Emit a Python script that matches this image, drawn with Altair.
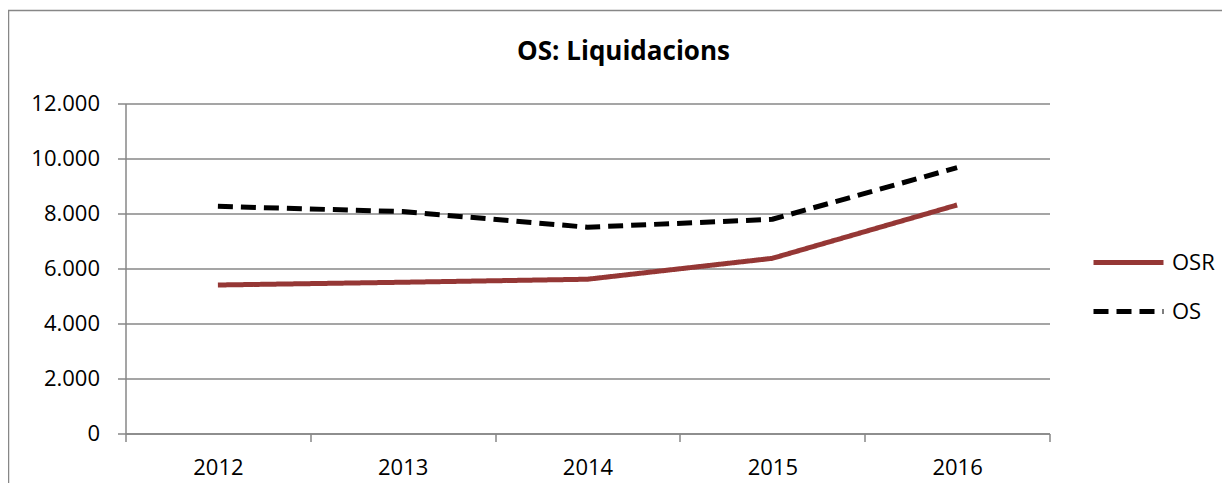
import altair as alt
import pandas as pd

years = ["2012", "2013", "2014", "2015", "2016"]
osr_values = [5400, 5500, 5610, 6370, 8310]
os_values = [8260, 8070, 7500, 7790, 9670]
series = ["OSR", "OS"]
series_colors = ["#953735", "#000000"]
series_dashes = [[1, 0], [15, 8]]
y_ticks = [0, 2000, 4000, 6000, 8000, 10000, 12000]
title_text = "OS: Liquidacions"

rows = []
for s, vals in zip(series, [osr_values, os_values]):
    for yr, v in zip(years, vals):
        rows.append({"year": yr, "value": v, "series": s})
df = pd.DataFrame(rows)

FONT = "Open Sans"
GRID = "#878787"

legend = alt.Legend(
    title=None, orient="none", legendX=965.5, legendY=121.5,
    symbolType="stroke", symbolSize=4900, symbolStrokeWidth=5,
    labelFont=FONT, labelFontSize=22, labelColor="#000000", labelOffset=6,
    rowPadding=-24,
)

lines = alt.Chart(df).mark_line(strokeWidth=5, strokeJoin="round").encode(
    x=alt.X(
        "year:O", sort=years,
        scale=alt.Scale(type="band", paddingInner=0, paddingOuter=0),
        axis=alt.Axis(
            title=None, tickBand="extent", grid=False, ticks=True, tickSize=8,
            labelPadding=16, labelFontSize=22, labelFont=FONT, labelColor="#000000",
            domainColor=GRID, tickColor=GRID, domainWidth=1.5, tickWidth=1.5, labelAngle=0,
        ),
    ),
    y=alt.Y(
        "value:Q", scale=alt.Scale(domain=[0, 12000]),
        axis=alt.Axis(
            title=None, values=y_ticks,
            labelExpr="replace(format(datum.value, ','), ',', '.')",
            grid=True, gridColor=GRID, gridWidth=1.5,
            domainColor=GRID, domainWidth=1.5, tickColor=GRID, tickWidth=1.5, tickSize=8,
            labelPadding=18, labelFontSize=22, labelFont=FONT, labelColor="#000000",
        ),
    ),
    color=alt.Color("series:N", scale=alt.Scale(domain=series, range=series_colors), legend=legend),
    strokeDash=alt.StrokeDash("series:N", scale=alt.Scale(domain=series, range=series_dashes), legend=legend),
)

frame = alt.Chart(alt.Data(values=[{"k": 0}])).mark_rect(
    filled=False, stroke=GRID, strokeWidth=1.5
).encode(
    x=alt.value(-117), x2=alt.value(3000), y=alt.value(-93), y2=alt.value(3000)
)

chart = alt.layer(frame, lines).properties(
    width=924, height=330,
    padding={"left": 117.5, "top": 95.5, "right": 172.5, "bottom": 49.5},
    autosize=alt.AutoSizeParams(type="none"),
    title=alt.TitleParams(
        text=title_text, font=FONT, fontSize=26, fontWeight="bold", color="#000000",
        anchor="middle", dx=36, offset=-76, baseline="alphabetic",
    ),
    background="#ffffff",
).configure_view(strokeWidth=0)

chart.save("out.html", embed_options={"renderer": "svg", "actions": False})
